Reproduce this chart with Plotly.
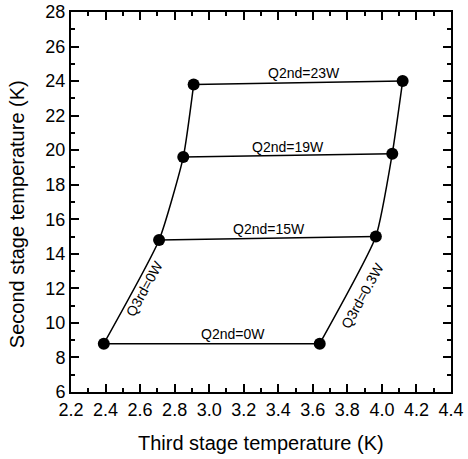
import plotly.graph_objects as go

# Data
q2nd_labels = ["Q2nd=0W", "Q2nd=15W", "Q2nd=19W", "Q2nd=23W"]
q3rd_labels = ["Q3rd=0W", "Q3rd=0.3W"]
t3_q3_0 = [2.39, 2.71, 2.85, 2.91]
t2_q3_0 = [8.8, 14.8, 19.6, 23.8]
t3_q3_03 = [3.64, 3.965, 4.06, 4.12]
t2_q3_03 = [8.8, 15.0, 19.8, 24.0]

x_ticks = [2.2, 2.4, 2.6, 2.8, 3.0, 3.2, 3.4, 3.6, 3.8, 4.0, 4.2, 4.4]
x_tick_text = ["2.2", "2.4", "2.6", "2.8", "3.0", "3.2", "3.4", "3.6", "3.8", "4.0", "4.2", "4.4"]

FONT = "Liberation Sans, Arial, sans-serif"
line = dict(color="black", width=1.5)
marker = dict(color="black", size=12)

fig = go.Figure()

# Q3rd lines (left and right)
fig.add_trace(go.Scatter(x=t3_q3_0, y=t2_q3_0, mode="lines", line=dict(color="black", width=1.5, shape="spline", smoothing=0.5), showlegend=False))
fig.add_trace(go.Scatter(x=t3_q3_03, y=t2_q3_03, mode="lines", line=dict(color="black", width=1.5, shape="spline", smoothing=0.5), showlegend=False))

# Q2nd lines (horizontal)
for i in range(len(q2nd_labels)):
    fig.add_trace(go.Scatter(x=[t3_q3_0[i], t3_q3_03[i]], y=[t2_q3_0[i], t2_q3_03[i]],
                             mode="lines", line=line, showlegend=False))

# Markers
fig.add_trace(go.Scatter(x=t3_q3_0 + t3_q3_03, y=t2_q3_0 + t2_q3_03, mode="markers",
                         marker=marker, showlegend=False))

# Q2nd labels
q2_label_pos = [(3.135, 9.34), (3.346, 15.45), (3.456, 20.2), (3.55, 24.47)]
for lab, (xx, yy) in zip(q2nd_labels, q2_label_pos):
    fig.add_annotation(x=xx, y=yy, text=lab, showarrow=False,
                       font=dict(family=FONT, size=14, color="black"))

# Q3rd labels (rotated)
q3_label_pos = [(2.628, 12.0), (3.89, 11.6)]
for lab, (xx, yy) in zip(q3rd_labels, q3_label_pos):
    fig.add_annotation(x=xx, y=yy, text=lab, showarrow=False, textangle=-61,
                       font=dict(family=FONT, size=14, color="black"))

axis_common = dict(
    showgrid=False, zeroline=False, showline=True, linecolor="black", linewidth=2,
    mirror="allticks", ticks="inside", ticklen=8, tickwidth=2, tickcolor="black",
    tickfont=dict(family=FONT, size=18, color="black"), automargin=False,
)

fig.update_xaxes(
    range=[2.2, 4.4], tickvals=x_ticks, ticktext=x_tick_text,
    minor=dict(ticks="inside", dtick=0.1, tick0=2.2, ticklen=4, tickwidth=2, tickcolor="black", showgrid=False),
    **axis_common,
)
fig.update_yaxes(
    range=[6, 28], dtick=2, tick0=6,
    minor=dict(ticks="inside", dtick=1, tick0=6, ticklen=4, tickwidth=2, tickcolor="black", showgrid=False),
    **axis_common,
)

# Axis titles as positioned annotations
fig.add_annotation(xref="paper", yref="paper", x=0.5, y=-0.134, xanchor="center", yanchor="middle",
                   text="Third stage temperature (K)", showarrow=False,
                   font=dict(family=FONT, size=20, color="black"))
fig.add_annotation(xref="paper", yref="paper", x=-0.142, y=0.468, xanchor="center", yanchor="middle",
                   text="Second stage temperature (K)", textangle=-90, showarrow=False,
                   font=dict(family=FONT, size=20, color="black"))

fig.update_layout(
    width=468, height=459,
    margin=dict(l=71, r=17, t=12, b=67),
    plot_bgcolor="white", paper_bgcolor="white",
    showlegend=False,
)

fig.write_html("out.html")
